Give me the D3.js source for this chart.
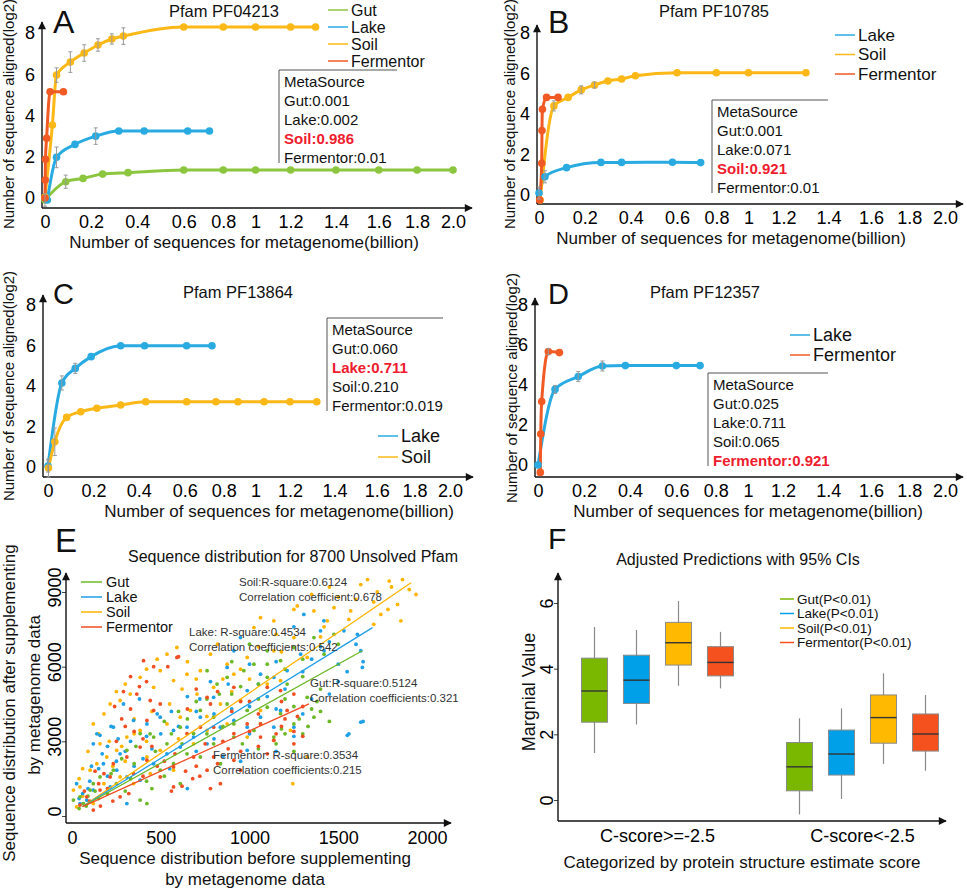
<!DOCTYPE html>
<html>
<head>
<meta charset="utf-8">
<script src="https://cdnjs.cloudflare.com/ajax/libs/d3/7.8.5/d3.min.js"></script>
<style>
  body { margin: 0; background: #fff; }
</style>
</head>
<body>
<div id="chart"></div>
<script>
const FONT = "'Liberation Sans', Arial, sans-serif";

// ---------- data ----------
const sources = ["Gut", "Lake", "Soil", "Fermentor"];

// x axis of the rarefaction panels (tick spacing in the figure is uneven)
const xTickVals = [0, 0.2, 0.4, 0.6, 0.8, 1.0, 1.2, 1.4, 1.6, 1.8, 2.0];
const xTickLabels = ["0", "0.2", "0.4", "0.6", "0.8", "1", "1.2", "1.4", "1.6", "1.8", "2.0"];
const xTickFrac = [0, .113, .226, .34, .437, .516, .602, .713, .818, .912, 1];
const yTickVals = [0, 2, 4, 6, 8];

// [billion sequences, log2 aligned, error]
const aGut = [[0, -0.1, 0.3], [0.09, 0.79, 0.32], [0.165, 0.95], [0.25, 1.16], [0.36, 1.23], [0.6, 1.36],
  [0.8, 1.36], [1.0, 1.36], [1.2, 1.36], [1.4, 1.36], [1.6, 1.36], [1.8, 1.36], [2.0, 1.36]];
const aLake = [[0.01, -0.1], [0.05, 1.97, 0.5], [0.13, 2.6], [0.22, 3.0, 0.4], [0.32, 3.25], [0.43, 3.25],
  [0.62, 3.25], [0.73, 3.25]];
const aSoil = [[0, 0.05], [0.032, 3.54], [0.05, 5.96, 0.35], [0.11, 6.59, 0.5], [0.17, 7.03, 0.4],
  [0.23, 7.42, 0.3], [0.29, 7.71, 0.25], [0.34, 7.85, 0.4], [0.6, 8.29], [0.8, 8.29], [1.0, 8.29],
  [1.2, 8.29], [1.31, 8.29]];
const aFerm = [[0, 0], [0.001, 0.87], [0.002, 1.88], [0.007, 2.9], [0.022, 5.15], [0.08, 5.15]];

const bLake = [[0, 0.1, 0.3], [0.026, 0.9, 0.3], [0.12, 1.35], [0.27, 1.61], [0.36, 1.61], [0.58, 1.62], [0.72, 1.6]];
const bSoil = [[0.005, -0.25], [0.065, 4.4, 0.25], [0.127, 4.82], [0.184, 5.19, 0.2], [0.242, 5.43, 0.15],
  [0.30, 5.63], [0.36, 5.73], [0.42, 5.89], [0.6, 6.04], [0.8, 6.04], [1.0, 6.04], [1.3, 6.04]];
const bFerm = [[0.003, -0.25], [0.012, 1.57], [0.013, 3.18], [0.015, 4.23], [0.033, 4.82], [0.083, 4.82]];

const cLake = [[0, 0.05, 0.3], [0.061, 4.15, 0.35], [0.12, 4.87, 0.25], [0.19, 5.45], [0.32, 5.99],
  [0.425, 5.99], [0.61, 5.99], [0.74, 5.99]];
const cSoil = [[0.002, -0.05, 0.45], [0.03, 1.25, 0.68], [0.082, 2.45], [0.144, 2.73], [0.215, 2.9], [0.32, 3.06],
  [0.43, 3.22], [0.61, 3.22], [0.76, 3.22], [0.89, 3.22], [1.05, 3.22], [1.2, 3.22], [1.32, 3.22]];

const dLake = [[0, 0], [0.074, 3.78, 0.2], [0.175, 4.42, 0.25], [0.28, 4.95, 0.25], [0.38, 4.97],
  [0.6, 4.97], [0.72, 4.97]];
const dFerm = [[0.01, -0.37], [0.012, 1.55], [0.016, 3.17], [0.045, 5.67, 0.15], [0.093, 5.62]];

// MetaSource probabilities, order Gut, Lake, Soil, Fermentor
const metaA = ["0.001", "0.002", "0.986", "0.01"];
const metaB = ["0.001", "0.071", "0.921", "0.01"];
const metaC = ["0.060", "0.711", "0.210", "0.019"];
const metaD = ["0.025", "0.711", "0.065", "0.921"];

// panel E: sequences before / after supplementing
const eSoil = [[1665, 9500], [1787, 9440], [1862, 9500], [1938, 8900], [1834, 8500], [1853, 7840], [1740, 8100],
  [1627, 9300], [1570, 8240], [1476, 8370], [1438, 7840], [1363, 8240], [1250, 8300], [1137, 7840], [1062, 7970],
  [1025, 7570], [1250, 7170], [1137, 6640], [1325, 6370], [591, 6770], [535, 6500], [780, 6500], [723, 5840],
  [874, 6100], [987, 6370], [912, 5700], [572, 5440], [460, 5170], [384, 5570], [328, 4900], [271, 4640],
  [215, 4500], [497, 5840], [648, 5700], [704, 4900], [836, 4500], [798, 5170], [949, 4640], [1100, 5300],
  [1175, 5440], [1062, 4240], [1231, 3440], [987, 3170], [1137, 3040], [45, 1170], [8, 1040], [102, 1840],
  [140, 2100], [196, 2370], [252, 2640], [158, 2900], [309, 3170], [384, 3440], [422, 2370], [497, 2640],
  [535, 3700], [610, 3970], [667, 4240], [83, 640], [120, 500], [26, 370], [271, 1570], [347, 1300],
  [441, 1700], [572, 1840], [685, 2900], [761, 3440], [874, 3700], [1244, 1300], [1325, 2370], [150, 3300],
  [230, 2000], [300, 2200], [180, 1300], [60, 800], [420, 3000], [350, 3900], [600, 3100], [760, 4000],
  [900, 5000], [1000, 5500], [1400, 7200], [1500, 8800], [1700, 8600], [1800, 9200], [1269, 8440],
  [1720, 9000], [1900, 9100], [1600, 8700], [1350, 8900], [1450, 9200], [1150, 7300], [1050, 6800], [820, 6900],
  [650, 6200], [480, 6300], [420, 5900], [300, 5300], [250, 5000], [180, 4100], [120, 3700], [90, 2600],
  [60, 1900], [40, 1500], [210, 3000], [280, 2800], [350, 3300], [450, 4200], [550, 4500], [620, 5100],
  [700, 5500], [850, 5500], [950, 5900], [1180, 6600], [1420, 7600], [1560, 7900], [1700, 7700], [1780, 8300]];
const eLake = [[1306, 8100], [1419, 7840], [1400, 7440], [1532, 7440], [1608, 7300], [1627, 6640], [1636, 5970],
  [1500, 6100], [1420, 6640], [1288, 6500], [1212, 5840], [1137, 5570], [1062, 5700], [987, 5040], [912, 6640],
  [949, 7170], [874, 5970], [798, 4770], [723, 3970], [648, 3570], [572, 3440], [497, 3970], [422, 3700],
  [347, 3840], [233, 3570], [158, 3240], [120, 2900], [177, 2100], [252, 1840], [309, 1570], [384, 1440],
  [460, 2100], [535, 2500], [610, 2770], [685, 3170], [761, 2900], [836, 3570], [912, 3840], [987, 3570],
  [1062, 3970], [1137, 3570], [1175, 4240], [1250, 3570], [987, 2640], [1551, 3240], [1627, 3770], [83, 640],
  [45, 500], [120, 1040], [215, 1170], [309, 500], [271, 2500], [26, 1300], [1500, 5400], [1550, 5800],
  [1640, 3800], [1560, 3300], [1000, 4400], [1100, 4800], [1200, 5100], [900, 4300], [800, 4100], [700, 4200],
  [600, 3600], [500, 3300], [450, 2700], [400, 2300], [350, 2000], [300, 2600], [250, 2200], [200, 1600],
  [150, 1900], [100, 1400], [60, 900], [220, 3600], [140, 3300], [1300, 5800], [1400, 6800], [1250, 7600],
  [1050, 5300], [950, 2200], [850, 2400], [1150, 2600], [1250, 3200], [650, 1100], [380, 4700], [290, 4500],
  [1450, 7000], [1350, 6300], [1600, 6900], [1640, 6200], [1150, 6200], [1000, 6100], [880, 5300], [780, 5400],
  [720, 4700], [650, 4800], [560, 4200], [480, 4100], [420, 3200], [330, 3000], [260, 3100], [200, 2800],
  [170, 2500], [110, 2000], [90, 1100], [40, 700], [550, 1900], [700, 2600], [800, 3100], [1000, 3300],
  [1150, 4300], [1300, 4100], [1350, 4700], [1450, 4900]];
const eGut = [[1476, 7300], [1363, 7170], [1250, 6770], [1175, 6240], [1100, 6640], [1025, 6100], [968, 5840],
  [874, 5570], [817, 5300], [761, 5840], [1100, 5570], [1212, 5300], [1325, 4770], [1363, 3970], [1250, 3700],
  [1175, 4110], [1100, 4370], [1062, 3700], [987, 4240], [912, 3700], [874, 4500], [798, 3970], [723, 4240],
  [685, 3310], [610, 3570], [535, 2900], [460, 3170], [384, 3310], [309, 2640], [233, 1840], [158, 1570],
  [102, 1040], [45, 770], [8, 640], [64, 500], [384, 640], [422, 500], [497, 1840], [572, 2100], [648, 2500],
  [723, 2370], [798, 2900], [912, 3170], [1025, 3440], [1137, 3170], [836, 2100], [610, 1300], [1400, 4200],
  [1450, 3800], [1330, 3600], [1200, 3300], [1280, 3900], [1050, 4700], [950, 5200], [830, 4900], [700, 4600],
  [650, 3900], [560, 3300], [470, 2600], [350, 2100], [250, 1300], [200, 900], [150, 700], [120, 1300],
  [80, 400], [300, 1000], [420, 1400], [1150, 2900], [1250, 2600], [1100, 6100], [1300, 5600], [900, 6200],
  [1000, 6900], [1200, 4700], [1350, 4300], [1500, 6900], [1420, 6500], [1300, 6300], [1200, 5900],
  [1050, 5300], [900, 4900], [760, 4700], [600, 4200], [520, 3800], [440, 3300], [360, 2800], [280, 2300],
  [220, 1700], [130, 1000], [90, 800], [40, 300], [330, 1500], [450, 1100], [520, 1600], [620, 2900],
  [760, 3300], [850, 3600], [960, 2900], [1050, 2700], [1180, 3500], [1300, 3300], [1380, 4600], [1400, 5100],
  [1250, 4400]];
const eFerm = [[591, 6370], [403, 6240], [365, 4900], [441, 4640], [460, 4240], [422, 3840], [497, 4500],
  [761, 4770], [780, 4500], [912, 5170], [1100, 5170], [1175, 5040], [1250, 4900], [1212, 4240], [1062, 3700],
  [987, 3700], [912, 3310], [798, 3570], [723, 3570], [648, 3310], [1137, 3040], [1062, 3170], [1250, 2900],
  [685, 2370], [761, 1840], [836, 1300], [949, 1840], [798, 2370], [912, 2240], [384, 2770], [422, 2240],
  [309, 2370], [347, 1700], [233, 2100], [215, 1570], [497, 1570], [572, 1970], [158, 1040], [83, 770],
  [120, 240], [45, 440], [271, 770], [572, 1170], [1300, 3200], [1180, 3600], [1050, 2800], [950, 2600],
  [850, 3000], [750, 2900], [680, 1500], [620, 1200], [560, 1000], [780, 1100], [900, 4200], [1000, 4600],
  [650, 4300], [600, 6400], [540, 6000], [380, 5200], [330, 4300], [300, 3600], [250, 3000], [180, 1700],
  [130, 1800], [100, 600], [200, 1100], [400, 1600], [480, 2000], [700, 2000], [1100, 2500], [1200, 3900],
  [1300, 4400], [1250, 3400], [1150, 3300], [1000, 3400], [880, 2700], [820, 2100], [720, 1600], [640, 1800],
  [580, 2500], [520, 2200], [450, 2800], [400, 3100], [350, 3400], [280, 3900], [240, 4400], [290, 5000],
  [330, 5600], [420, 5400], [460, 6000], [700, 5100], [820, 5000], [950, 4600], [1050, 4100], [1180, 4600],
  [1270, 4000], [150, 1300], [70, 1000], [230, 600], [320, 900], [160, 400]];

// fitted lines, start and end
const eSoilFit = [[60, 380], [1910, 9370]];
const eLakeFit = [[60, 380], [1693, 7570]];
const eGutFit = [[60, 380], [1636, 6640]];
const eFermFit = [[60, 380], [1335, 4506]];
const eSoilStat = ["Soil:R-square:0.6124", "Correlation coefficient:0.678"];
const eLakeStat = ["Lake: R-square:0.4534", "Correlation coefficients:0.542"];
const eGutStat = ["Gut:R-square:0.5124", "Correlation coefficients:0.321"];
const eFermStat = ["Fermentor: R-square:0.3534", "Correlation coefficients:0.215"];

// panel F: [min, q1, median, q3, max] per C-score group
const fGroups = ["C-score>=-2.5", "C-score<-2.5"];
const fGut = [[1.43, 2.37, 3.32, 4.32, 5.27], [-0.44, 0.28, 1.01, 1.75, 2.49]];
const fLake = [[2.30, 2.94, 3.65, 4.41, 5.18], [0.03, 0.76, 1.40, 2.13, 2.79]];
const fSoil = [[3.48, 4.11, 4.79, 5.41, 6.06], [1.10, 1.73, 2.51, 3.20, 3.86]];
const fFerm = [[3.40, 3.78, 4.19, 4.67, 5.12], [0.89, 1.49, 2.01, 2.62, 3.20]];

// ---------- drawing ----------
const lineColor = { Gut: "#8cc63f", Lake: "#29abe2", Soil: "#fbb817", Fermentor: "#f15a24" };
const dotColor = { Gut: "#6cb827", Lake: "#1f9fe6", Soil: "#ffb400", Fermentor: "#f04e23" };
const boxColor = { Gut: "#7ab800", Lake: "#00a0e9", Soil: "#ffb900", Fermentor: "#f4511e" };

const svg = d3.select("#chart").append("svg")
  .attr("width", 967).attr("height", 890)
  .style("font-family", FONT);

svg.append("defs").append("marker")
  .attr("id", "arrow")
  .attr("viewBox", "0 0 10 10")
  .attr("refX", 9).attr("refY", 5)
  .attr("markerUnits", "userSpaceOnUse")
  .attr("markerWidth", 9).attr("markerHeight", 8)
  .attr("orient", "auto")
  .append("path").attr("d", "M0,0L10,5L0,10z").attr("fill", "#111");

function arrow(g, x1, y1, x2, y2) {
  g.append("line")
    .attr("x1", x1).attr("y1", y1).attr("x2", x2).attr("y2", y2)
    .attr("stroke", "#111").attr("stroke-width", 1.4)
    .attr("marker-end", "url(#arrow)");
}

function text(g, str, x, y, size, opts = {}) {
  return g.append("text")
    .attr("x", x).attr("y", y)
    .attr("font-size", size)
    .attr("text-anchor", opts.anchor || "start")
    .attr("dominant-baseline", opts.baseline || "auto")
    .attr("fill", opts.fill || "#111")
    .attr("font-weight", opts.weight || "normal")
    .text(str);
}

function linePanel(p) {
  const g = svg.append("g");
  const x = d3.scaleLinear().domain(xTickVals)
    .range(xTickFrac.map(f => p.x0 + f * (p.x1 - p.x0)));
  const y = d3.scaleLinear().domain([0, 8]).range([p.y0, p.y8]);

  g.append("g").attr("transform", `translate(0,${p.ay})`)
    .call(d3.axisBottom(x).tickValues(xTickVals).tickFormat((d, i) => xTickLabels[i]).tickSize(0).tickPadding(7))
    .call(a => a.select(".domain").remove())
    .attr("font-size", 18).attr("font-family", FONT);
  g.append("g").attr("transform", `translate(${p.ax},0)`)
    .call(d3.axisLeft(y).tickValues(yTickVals).tickSize(0).tickPadding(7))
    .call(a => a.select(".domain").remove())
    .attr("font-size", 18).attr("font-family", FONT);
  arrow(g, p.ax, p.ay, p.ax, p.top);
  arrow(g, p.ax, p.ay, p.right, p.ay);

  const line = d3.line().x(d => x(d[0])).y(d => y(d[1])).curve(d3.curveMonotoneX);
  p.series.forEach(s => {
    g.append("path").datum(s.data).attr("d", line)
      .attr("fill", "none").attr("stroke", lineColor[s.name]).attr("stroke-width", 3);
  });
  p.series.forEach(s => {
    g.selectAll(null).data(s.data).join("circle")
      .attr("cx", d => x(d[0])).attr("cy", d => y(d[1])).attr("r", 3.8)
      .attr("fill", lineColor[s.name]);
  });
  // error bars
  p.series.forEach(s => {
    const e = g.selectAll(null).data(s.data.filter(d => d[2])).join("g").attr("stroke", "#9a9a9a");
    e.append("line").attr("x1", d => x(d[0])).attr("x2", d => x(d[0]))
      .attr("y1", d => y(d[1] - d[2])).attr("y2", d => y(d[1] + d[2]));
    [-1, 1].forEach(k => {
      e.append("line").attr("x1", d => x(d[0]) - 2).attr("x2", d => x(d[0]) + 2)
        .attr("y1", d => y(d[1] + k * d[2])).attr("y2", d => y(d[1] + k * d[2]));
    });
  });

  // legend
  p.series.forEach((s, i) => {
    const ly = p.ly + i * p.lstep;
    g.append("line").attr("x1", p.lx).attr("x2", p.lx + 20).attr("y1", ly).attr("y2", ly)
      .attr("stroke", lineColor[s.name]).attr("stroke-width", 1.5);
    text(g, s.name, p.lx + 23, ly, p.lfont || 18, { baseline: "central" });
  });

  // MetaSource box
  g.append("path")
    .attr("d", `M${p.mx + p.mw},${p.my}H${p.mx}V${p.my + 93}`)
    .attr("fill", "none").attr("stroke", "#555").attr("stroke-width", 1);
  text(g, "MetaSource", p.mx + 5, p.my + 11, 15, { baseline: "central" });
  sources.forEach((src, i) => {
    const hi = i === p.highlight;
    text(g, `${src}:${p.meta[i]}`, p.mx + 5, p.my + 11 + (i + 1) * 19, 15,
      { baseline: "central", fill: hi ? "#ee1c2e" : "#111", weight: hi ? "bold" : "normal" });
  });

  text(g, p.title, p.tx, p.ty, 16.5, { anchor: "middle" });
  text(g, p.letter, p.lxL, p.lyL, p.lsize);
  text(g, "Number of sequences for metagenome(billion)", p.xtx, p.ay + 40, 17, { anchor: "middle" });
  text(g, "Number of sequence aligned(log2)", 0, 0, 15, { anchor: "middle", baseline: "central" })
    .attr("transform", `translate(${p.ytx},${p.yty}) rotate(-90)`);
}

linePanel({
  ax: 42, ay: 208, top: 22, right: 472, x0: 45, x1: 453, y0: 198, y8: 33,
  series: [{ name: "Gut", data: aGut }, { name: "Lake", data: aLake }, { name: "Soil", data: aSoil }, { name: "Fermentor", data: aFerm }],
  lx: 328, ly: 10, lstep: 17, lfont: 16,
  mx: 279, my: 70, mw: 118, meta: metaA, highlight: 2,
  title: "Pfam PF04213", tx: 224, ty: 17, letter: "A", lxL: 53, lyL: 33, lsize: 32,
  xtx: 244, ytx: 8, yty: 114
});
linePanel({
  ax: 537, ay: 204, top: 25, right: 963, x0: 539, x1: 945, y0: 195, y8: 33,
  series: [{ name: "Lake", data: bLake }, { name: "Soil", data: bSoil }, { name: "Fermentor", data: bFerm }],
  lx: 835, ly: 35, lstep: 19.5, lfont: 17,
  mx: 712, my: 100, mw: 116, meta: metaB, highlight: 2,
  title: "Pfam PF10785", tx: 714, ty: 17, letter: "B", lxL: 548, lyL: 33, lsize: 32,
  xtx: 731, ytx: 509, yty: 114
});
linePanel({
  ax: 43, ay: 477, top: 295, right: 473, x0: 48, x1: 450, y0: 467, y8: 305,
  series: [{ name: "Lake", data: cLake }, { name: "Soil", data: cSoil }],
  lx: 378, ly: 436, lstep: 21,
  mx: 327, my: 318, mw: 116, meta: metaC, highlight: 1,
  title: "Pfam PF13864", tx: 238, ty: 298, letter: "C", lxL: 53, lyL: 304, lsize: 29,
  xtx: 279, ytx: 8, yty: 386
});
linePanel({
  ax: 535, ay: 477, top: 298, right: 963, x0: 538, x1: 945, y0: 465, y8: 305,
  series: [{ name: "Lake", data: dLake }, { name: "Fermentor", data: dFerm }],
  lx: 790, ly: 335, lstep: 20,
  mx: 708, my: 373, mw: 120, meta: metaD, highlight: 3,
  title: "Pfam PF12357", tx: 705, ty: 298, letter: "D", lxL: 548, lyL: 304, lsize: 29,
  xtx: 748, ytx: 511, yty: 388
});

// ---------- panel E ----------
{
  const g = svg.append("g");
  const x = d3.scaleLinear().domain([0, 2000]).range([72, 427]);
  const y = d3.scaleLinear().domain([0, 9000]).range([816, 592]);
  const ax = 66, ay = 823;

  g.append("g").attr("transform", `translate(0,${ay})`)
    .call(d3.axisBottom(x).tickValues([0, 500, 1000, 1500, 2000]).tickFormat(d3.format("d")).tickSize(0).tickPadding(8))
    .call(a => a.select(".domain").remove())
    .attr("font-size", 18).attr("font-family", FONT);
  g.append("g").attr("transform", `translate(${ax},0)`)
    .call(d3.axisLeft(y).tickValues([0, 3000, 6000, 9000]).tickFormat(d3.format("d")).tickSize(4))
    .call(a => a.select(".domain").remove())
    .call(a => a.selectAll(".tick line").attr("stroke", "#444"))
    .call(a => a.selectAll(".tick text").attr("x", 0).attr("dy", null)
      .attr("text-anchor", "middle").attr("transform", "translate(-5,-5) rotate(-90)"))
    .attr("font-size", 18).attr("font-family", FONT);
  arrow(g, ax, ay, ax, 573);
  arrow(g, ax, ay, 451, ay);

  const pts = [["Soil", eSoil], ["Lake", eLake], ["Gut", eGut], ["Fermentor", eFerm]];
  pts.forEach(([name, data]) => {
    g.selectAll(null).data(data).join("circle")
      .attr("cx", d => x(d[0])).attr("cy", d => y(d[1])).attr("r", 1.9)
      .attr("fill", dotColor[name]);
  });
  const fits = [["Soil", eSoilFit], ["Lake", eLakeFit], ["Gut", eGutFit], ["Fermentor", eFermFit]];
  const fitLine = d3.line().x(d => x(d[0])).y(d => y(d[1]));
  fits.forEach(([name, data]) => {
    g.append("path").datum(data).attr("d", fitLine)
      .attr("stroke", dotColor[name]).attr("stroke-width", 1.3).attr("fill", "none");
  });

  const stats = [[eSoilStat, 239, 586], [eLakeStat, 189, 636], [eGutStat, 310, 687], [eFermStat, 213, 759]];
  stats.forEach(([lines, sx, sy]) => {
    lines.forEach((l, i) => text(g, l, sx, sy + i * 15, 11.5, { fill: "#333" }));
  });

  sources.forEach((s, i) => {
    const ly = 582 + i * 15;
    g.append("line").attr("x1", 81).attr("x2", 102).attr("y1", ly).attr("y2", ly)
      .attr("stroke", dotColor[s]).attr("stroke-width", 1.5);
    text(g, s, 106, ly, 14.5, { baseline: "central" });
  });

  text(g, "E", 55, 552, 33);
  text(g, "Sequence distribution for 8700 Unsolved Pfam", 293, 562, 16, { anchor: "middle" });
  text(g, "Sequence distribution before supplementing", 245, 864, 17, { anchor: "middle" });
  text(g, "by metagenome data", 245, 885, 17, { anchor: "middle" });
  text(g, "Sequence distribution after supplementing", 0, 0, 17, { anchor: "middle", baseline: "central" })
    .attr("transform", "translate(9,703) rotate(-90)");
  text(g, "by metagenome data", 0, 0, 17, { anchor: "middle", baseline: "central" })
    .attr("transform", "translate(34,695) rotate(-90)");
}

// ---------- panel F ----------
{
  const g = svg.append("g");
  const band = d3.scaleBand().domain(fGroups).range([555, 965]);
  const inner = d3.scaleBand().domain(sources).range([-84, 84]).paddingInner(0.38).paddingOuter(0.19);
  const y = d3.scaleLinear().domain([0, 6]).range([800, 603]);
  const ax = 558, ay = 821;

  g.append("g").attr("transform", `translate(0,${ay})`)
    .call(d3.axisBottom(band).tickSize(0).tickPadding(8))
    .call(a => a.select(".domain").remove())
    .attr("font-size", 18).attr("font-family", FONT);
  g.append("g").attr("transform", `translate(${ax},0)`)
    .call(d3.axisLeft(y).tickValues([0, 2, 4, 6]).tickFormat(d3.format("d")).tickSize(4))
    .call(a => a.select(".domain").remove())
    .call(a => a.selectAll(".tick line").attr("stroke", "#444"))
    .call(a => a.selectAll(".tick text").attr("x", 0).attr("dy", null)
      .attr("text-anchor", "middle").attr("transform", "translate(-5,0) rotate(-90)"))
    .attr("font-size", 18).attr("font-family", FONT);
  arrow(g, ax, ay, ax, 573);
  arrow(g, ax, ay, 946, ay);

  const boxes = [["Gut", fGut], ["Lake", fLake], ["Soil", fSoil], ["Fermentor", fFerm]];
  boxes.forEach(([name, data]) => {
    data.forEach((b, gi) => {
      const cx = band(fGroups[gi]) + band.bandwidth() / 2 + inner(name) + inner.bandwidth() / 2;
      const w = inner.bandwidth();
      g.append("line").attr("x1", cx).attr("x2", cx).attr("y1", y(b[0])).attr("y2", y(b[4]))
        .attr("stroke", "#8a8a8a").attr("stroke-width", 1.2);
      g.append("rect").attr("x", cx - w / 2).attr("width", w)
        .attr("y", y(b[3])).attr("height", y(b[1]) - y(b[3]))
        .attr("fill", boxColor[name]).attr("stroke", "#8a8a8a").attr("stroke-width", 1);
      g.append("line").attr("x1", cx - w / 2).attr("x2", cx + w / 2).attr("y1", y(b[2])).attr("y2", y(b[2]))
        .attr("stroke", "#333").attr("stroke-width", 1.4);
    });
  });

  sources.forEach((s, i) => {
    const ly = 599 + i * 14.5;
    g.append("line").attr("x1", 780).attr("x2", 794).attr("y1", ly).attr("y2", ly)
      .attr("stroke", boxColor[s]).attr("stroke-width", 1.5);
    text(g, `${s}(P<0.01)`, 797, ly, 13.5, { baseline: "central" });
  });

  text(g, "F", 548, 549, 30);
  text(g, "Adjusted Predictions with 95% CIs", 738, 565, 16, { anchor: "middle" });
  text(g, "Categorized by protein structure estimate score", 742, 868, 17, { anchor: "middle" });
  text(g, "Margnial Value", 0, 0, 18, { anchor: "middle", baseline: "central" })
    .attr("transform", "translate(529,692) rotate(-90)");
}
</script>
</body>
</html>
